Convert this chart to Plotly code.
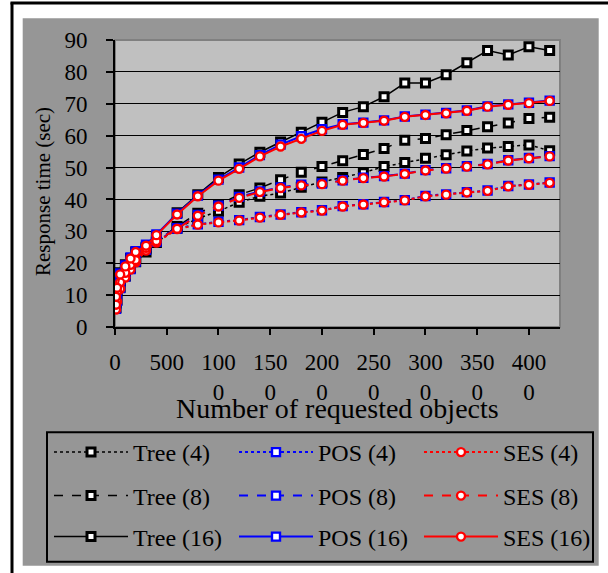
import plotly.graph_objects as go

# ---------------- data ----------------
x_objects = [10, 20, 50, 100, 150, 200, 300, 400, 600, 800, 1000, 1200, 1400, 1600,
             1800, 2000, 2200, 2400, 2600, 2800, 3000, 3200, 3400, 3600, 3800, 4000, 4200]

tree4 = [6.0, 8.5, 12.5, 16.0, 18.5, 20.5, 23.5, 26.5, 31.0, 34.0, 36.3, 39.1, 41.0, 42.0,
         43.8, 45.5, 46.9, 48.4, 50.3, 51.6, 52.9, 54.0, 55.2, 56.1, 56.6, 57.1, 55.3]
tree8 = [7.5, 11.5, 14.5, 17.5, 20.0, 21.5, 24.5, 27.0, 31.5, 35.7, 38.4, 41.5, 43.6, 46.2,
         48.5, 50.3, 52.1, 54.1, 56.0, 58.6, 59.1, 60.3, 61.6, 62.8, 64.0, 65.4, 65.8]
tree16 = [10.5, 13.5, 17.0, 19.5, 21.5, 23.5, 25.0, 28.5, 35.8, 41.5, 46.9, 51.1, 54.8, 58.0,
          61.1, 64.2, 67.3, 69.1, 72.2, 76.5, 76.5, 79.1, 82.9, 86.7, 85.3, 87.9, 86.7]

pos4 = [5.7, 8.2, 12.2, 15.8, 18.2, 20.5, 24.2, 26.7, 30.9, 32.2, 33.0, 33.5, 34.5, 35.3,
        36.0, 36.6, 37.9, 38.5, 39.2, 39.8, 41.1, 41.6, 42.3, 42.8, 44.2, 44.7, 45.3]
pos8 = [7.2, 11.2, 14.3, 17.3, 19.8, 21.2, 25.0, 27.2, 31.0, 35.1, 38.0, 40.8, 42.5, 43.8,
        44.6, 45.0, 46.0, 46.8, 47.3, 48.1, 49.2, 49.8, 50.4, 51.1, 52.3, 53.0, 53.6]
pos16 = [9.8, 12.5, 16.8, 19.3, 21.8, 23.8, 25.8, 29.0, 35.5, 41.2, 46.2, 50.0, 53.9, 57.2,
         59.8, 62.0, 63.6, 64.1, 64.8, 66.0, 66.6, 67.1, 67.9, 69.2, 69.8, 70.3, 71.0]

ses4 = [5.5, 8.0, 12.0, 15.5, 18.0, 20.3, 24.0, 26.5, 30.7, 32.1, 32.8, 33.4, 34.3, 35.2,
        35.9, 36.5, 37.8, 38.4, 39.1, 39.7, 41.0, 41.5, 42.2, 42.7, 44.1, 44.6, 45.2]
ses8 = [7.0, 11.0, 14.0, 17.0, 19.5, 21.0, 24.8, 27.0, 30.8, 34.9, 37.8, 40.5, 42.3, 43.6,
        44.4, 44.8, 45.9, 46.7, 47.2, 48.0, 49.1, 49.7, 50.3, 51.0, 52.2, 52.9, 53.5]
ses16 = [9.5, 12.3, 16.5, 19.0, 21.5, 23.5, 25.5, 28.8, 35.3, 41.0, 45.9, 49.6, 53.5, 56.6,
         59.0, 61.5, 63.4, 64.0, 64.7, 65.9, 66.5, 67.0, 67.8, 69.1, 69.7, 70.2, 70.9]

x_tickvals = [0, 500, 1000, 1500, 2000, 2500, 3000, 3500, 4000]
x_ticktext = ["0", "500", "100<br>0", "150<br>0", "200<br>0", "250<br>0",
              "300<br>0", "350<br>0", "400<br>0"]
y_tickvals = [0, 10, 20, 30, 40, 50, 60, 70, 80, 90]
x_title = "Number of requested objects"
y_title = "Response time (sec)"

# ---------------- layout helpers (pixel -> paper) ----------------
W, H = 608, 573
ML, MR, MT, MB = 115, 48, 40, 246
PW, PH = W - ML - MR, H - MT - MB


def px(xp):
    return (xp - ML) / PW


def py(yp):
    return (H - MB - yp) / PH


FONT = "Liberation Serif, Times New Roman, serif"

fig = go.Figure()

series = [
    ("Tree (4)", tree4, "black", "dot", "square", 1.5, "legend"),
    ("Tree (8)", tree8, "black", "dash", "square", 1.5, "legend2"),
    ("Tree (16)", tree16, "black", "solid", "square", 1.5, "legend3"),
    ("POS (4)", pos4, "#0000ff", "dot", "square", 2, "legend"),
    ("POS (8)", pos8, "#0000ff", "dash", "square", 2, "legend2"),
    ("POS (16)", pos16, "#0000ff", "solid", "square", 2, "legend3"),
    ("SES (4)", ses4, "#ff0000", "dot", "circle", 2, "legend"),
    ("SES (8)", ses8, "#ff0000", "dash", "circle", 2, "legend2"),
    ("SES (16)", ses16, "#ff0000", "solid", "circle", 2, "legend3"),
]

for name, ys, col, dash, sym, lw, lg in series:
    fig.add_trace(go.Scatter(
        x=x_objects, y=ys, name=name, mode="lines+markers",
        line=dict(color=col, width=lw, dash=dash),
        marker=dict(symbol=sym, size=8, color="white",
                    line=dict(color=col, width=3 if col == "black" else 2.4)),
        legend=lg,
    ))

legend_common = dict(
    orientation="h", xanchor="left", yanchor="middle",
    x=px(49), bgcolor="rgba(0,0,0,0)", borderwidth=0,
    font=dict(family=FONT, size=24, color="black"),
    itemwidth=74, entrywidth=96, entrywidthmode="pixels",
    traceorder="normal", itemclick=False, itemdoubleclick=False,
)

fig.update_layout(
    width=W, height=H,
    margin=dict(l=ML, r=MR, t=MT, b=MB, autoexpand=False),
    paper_bgcolor="white", plot_bgcolor="#c0c0c0",
    font=dict(family=FONT, size=23, color="black"),
    showlegend=True,
    legend=dict(legend_common, y=py(452.5)),
    legend2=dict(legend_common, y=py(496)),
    legend3=dict(legend_common, y=py(537)),
    xaxis=dict(
        range=[0, 4300], tickvals=x_tickvals, ticktext=x_ticktext,
        showgrid=False, zeroline=False, showline=True, linecolor="black",
        linewidth=2, ticks="outside", ticklen=6, tickwidth=2, tickcolor="black",
        ticklabelstandoff=7,
        tickfont=dict(family=FONT, size=23, color="black"),
    ),
    yaxis=dict(
        range=[0, 90], tickvals=y_tickvals,
        showgrid=True, gridcolor="black", gridwidth=1,
        zeroline=False, showline=True, linecolor="black", linewidth=2,
        ticks="outside", ticklen=7, tickwidth=2, tickcolor="black",
        ticklabelstandoff=14,
        tickfont=dict(family=FONT, size=23, color="black"),
    ),
    annotations=[
        dict(text=x_title, xref="paper", yref="paper", x=px(337.5), y=py(409),
             xanchor="center", yanchor="middle", showarrow=False,
             font=dict(family=FONT, size=28, color="black")),
        dict(text=y_title, xref="paper", yref="paper", x=px(43), y=py(192),
             xanchor="center", yanchor="middle", showarrow=False, textangle=-90,
             font=dict(family=FONT, size=21, color="black")),
    ],
    shapes=[
        # chart area (dark gray)
        dict(type="rect", xref="paper", yref="paper", layer="below",
             x0=px(22.7), x1=px(598.7), y0=py(565.7), y1=py(18.3),
             fillcolor="#969696", line=dict(width=0)),
        # plot area (light gray with darker border)
        dict(type="rect", xref="paper", yref="paper", layer="below",
             x0=0, x1=1, y0=0, y1=1,
             fillcolor="#c0c0c0", line=dict(color="#808080", width=2)),
        # legend box
        dict(type="rect", xref="paper", yref="paper", layer="above",
             x0=px(47), x1=px(593), y0=py(561.7), y1=py(432.3),
             fillcolor="rgba(0,0,0,0)", line=dict(color="black", width=2)),
        # outer frame lines
        dict(type="line", xref="paper", yref="paper", layer="above",
             x0=px(12), x1=px(12), y0=py(573), y1=py(2.5),
             line=dict(color="black", width=3)),
        dict(type="line", xref="paper", yref="paper", layer="above",
             x0=px(10.5), x1=px(608), y0=py(3), y1=py(3),
             line=dict(color="black", width=3)),
    ],
)

fig.write_html("out.html", config={"displayModeBar": False},
               post_script="document.body.style.margin='0px';")
